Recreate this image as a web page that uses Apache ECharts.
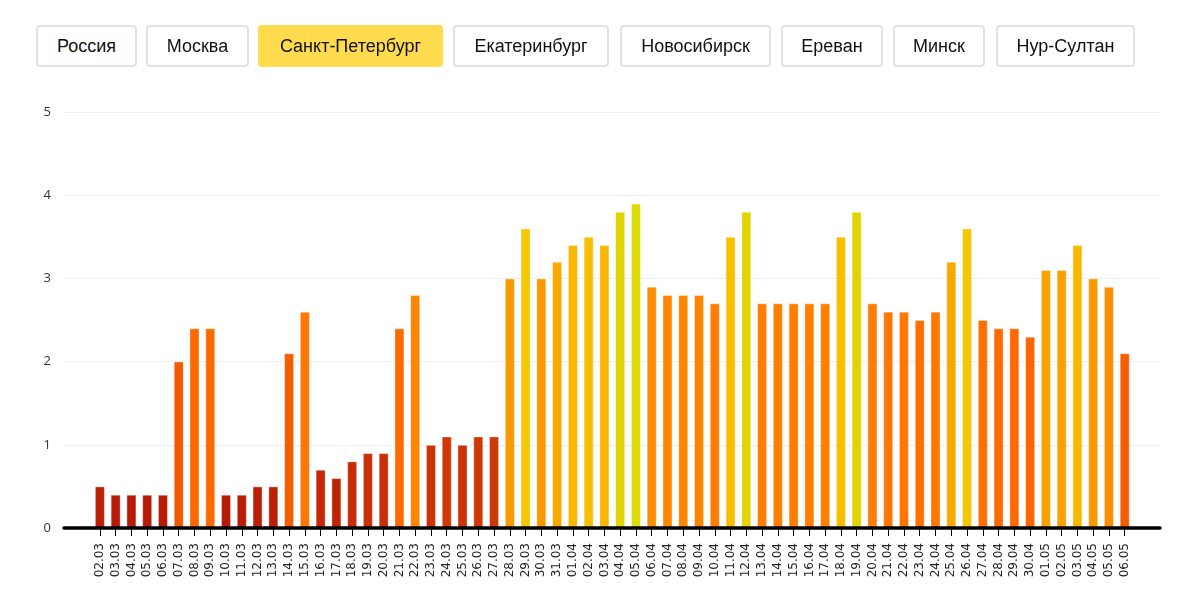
<!DOCTYPE html>
<html>
<head>
<meta charset="utf-8">
<script src="https://cdn.jsdelivr.net/npm/echarts@6/dist/echarts.min.js"></script>
<style>
html,body{margin:0;padding:0;background:#fff;width:1200px;height:614px;overflow:hidden;}
#chart{position:absolute;left:0;top:0;width:1200px;height:614px;}
.btn{position:absolute;top:25px;height:42px;box-sizing:border-box;border:2px solid #e2e2e2;border-radius:4px;background:#fff;
font-family:"Liberation Sans",Arial,sans-serif;font-size:18px;color:#111;display:flex;align-items:center;justify-content:center;}
.btn.active{background:#ffdb4d;border-color:#ffdb4d;}
</style>
</head>
<body>
<div id="chart"></div>
<div id="buttons"></div>
<script>
// ---- data ----
var cities = ["Россия","Москва","Санкт-Петербург","Екатеринбург","Новосибирск","Ереван","Минск","Нур-Султан"];
var activeCity = "Санкт-Петербург";
var dates = ["02.03","03.03","04.03","05.03","06.03","07.03","08.03","09.03","10.03","11.03","12.03","13.03","14.03","15.03","16.03","17.03","18.03","19.03","20.03","21.03","22.03","23.03","24.03","25.03","26.03","27.03","28.03","29.03","30.03","31.03",
"01.04","02.04","03.04","04.04","05.04","06.04","07.04","08.04","09.04","10.04","11.04","12.04","13.04","14.04","15.04","16.04","17.04","18.04","19.04","20.04","21.04","22.04","23.04","24.04","25.04","26.04","27.04","28.04","29.04","30.04",
"01.05","02.05","03.05","04.05","05.05","06.05"];
var values = [0.5,0.4,0.4,0.4,0.4,2.0,2.4,2.4,0.4,0.4,0.5,0.5,2.1,2.6,0.7,0.6,0.8,0.9,0.9,2.4,2.8,1.0,1.1,1.0,1.1,1.1,3.0,3.6,3.0,3.2,
3.4,3.5,3.4,3.8,3.9,2.9,2.8,2.8,2.8,2.7,3.5,3.8,2.7,2.7,2.7,2.7,2.7,3.5,3.8,2.7,2.6,2.6,2.5,2.6,3.2,3.6,2.5,2.4,2.4,2.3,
3.1,3.1,3.4,3.0,2.9,2.1];
var yTicks = [0,1,2,3,4,5];

// colour scale (value -> colour)
var stopVals = [0.4, 0.7, 1.1, 2.0, 2.4, 2.7, 3.0, 3.4, 3.6, 3.8, 3.9];
var stopCols = ["#b71c06","#c42806","#cf3703","#f05a00","#ff6a00","#ff7d00","#fa9800","#f8b700","#f6c600","#e0d402","#dcdc0a"];

function hex2rgb(h){return [parseInt(h.substr(1,2),16),parseInt(h.substr(3,2),16),parseInt(h.substr(5,2),16)];}
function colorFor(v){
  if(v<=stopVals[0]) return stopCols[0];
  for(var i=1;i<stopVals.length;i++){
    if(v<=stopVals[i]){
      var t=(v-stopVals[i-1])/(stopVals[i]-stopVals[i-1]);
      var a=hex2rgb(stopCols[i-1]), b=hex2rgb(stopCols[i]);
      return 'rgb('+Math.round(a[0]+(b[0]-a[0])*t)+','+Math.round(a[1]+(b[1]-a[1])*t)+','+Math.round(a[2]+(b[2]-a[2])*t)+')';
    }
  }
  return stopCols[stopCols.length-1];
}

// buttons
var btnLeft = [36,146,258,453,620,781,893,996];
var btnWidth = [101,103,185,156,151,102,92,139];
var wrap=document.getElementById('buttons');
cities.forEach(function(c,i){
  var d=document.createElement('div');
  d.className='btn'+(c===activeCity?' active':'');
  d.style.left=btnLeft[i]+'px'; d.style.width=btnWidth[i]+'px';
  d.textContent=c; wrap.appendChild(d);
});

var chart = echarts.init(document.getElementById('chart'));
chart.setOption({
  animation:false,
  grid:[
    {left:64,right:40,top:112,bottom:86},
    {left:92,right:67.4,top:112,bottom:86}
  ],
  xAxis:[
    {gridIndex:0,type:'value',min:0,max:1,z:10,axisLine:{show:true,lineStyle:{color:'#000',width:3.5}},axisTick:{show:false},axisLabel:{show:false},splitLine:{show:false}},
    {gridIndex:1,type:'category',data:dates,boundaryGap:true,z:11,
      axisLine:{show:false},
      axisTick:{show:true,alignWithLabel:true,length:8,lineStyle:{color:'#000',width:1}},
      axisLabel:{interval:0,rotate:90,margin:15,color:'#222',fontFamily:'DejaVu Sans',fontSize:12}}
  ],
  yAxis:[
    {gridIndex:0,type:'value',min:0,max:5,interval:1,
      axisLine:{show:false},axisTick:{show:false},
      axisLabel:{margin:13,color:'#333',fontFamily:'Open Sans',fontSize:13,formatter:function(v){return yTicks.indexOf(v)>=0?String(v):'';}},
      splitLine:{show:true,lineStyle:{color:'#eeeeee',width:1}}},
    {gridIndex:1,type:'value',min:0,max:5,show:false}
  ],
  series:[{
    type:'bar',xAxisIndex:1,yAxisIndex:1,barWidth:10,
    data:values,
    itemStyle:{color:function(p){return colorFor(p.value);},borderColor:'rgba(255,255,255,0.35)',borderWidth:1},
    z:1
  },{
    type:'line',xAxisIndex:0,yAxisIndex:0,data:[],silent:true
  }]
});
</script>
</body>
</html>
